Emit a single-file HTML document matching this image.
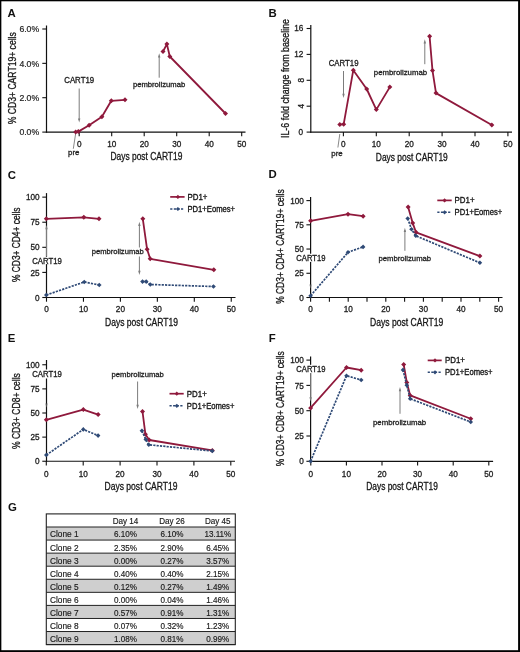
<!DOCTYPE html><html><head><meta charset="utf-8"><style>html,body{margin:0;padding:0;background:#fff;}body{width:520px;height:652px;overflow:hidden;}svg{display:block;font-family:"Liberation Sans", sans-serif;filter:blur(0.3px);}</style></head><body>
<svg width="520" height="652" viewBox="0 0 520 652">
<rect x="0" y="0" width="520" height="652" fill="#fff"/>
<text x="7.60" y="17.30" font-size="11.4" text-anchor="start" fill="#111" font-weight="bold">A</text>
<line x1="46.50" y1="25.50" x2="46.50" y2="132.70" stroke="#111" stroke-width="1.2"/>
<line x1="45.90" y1="132.10" x2="245.50" y2="132.10" stroke="#111" stroke-width="1.2"/>
<line x1="42.30" y1="132.10" x2="46.50" y2="132.10" stroke="#111" stroke-width="1.1"/>
<line x1="42.30" y1="97.70" x2="46.50" y2="97.70" stroke="#111" stroke-width="1.1"/>
<line x1="42.30" y1="63.35" x2="46.50" y2="63.35" stroke="#111" stroke-width="1.1"/>
<line x1="42.30" y1="29.00" x2="46.50" y2="29.00" stroke="#111" stroke-width="1.1"/>
<line x1="79.20" y1="132.10" x2="79.20" y2="136.30" stroke="#111" stroke-width="1.1"/>
<line x1="111.70" y1="132.10" x2="111.70" y2="136.30" stroke="#111" stroke-width="1.1"/>
<line x1="144.20" y1="132.10" x2="144.20" y2="136.30" stroke="#111" stroke-width="1.1"/>
<line x1="176.70" y1="132.10" x2="176.70" y2="136.30" stroke="#111" stroke-width="1.1"/>
<line x1="209.20" y1="132.10" x2="209.20" y2="136.30" stroke="#111" stroke-width="1.1"/>
<line x1="241.70" y1="132.10" x2="241.70" y2="136.30" stroke="#111" stroke-width="1.1"/>
<text x="39.20" y="135.30" font-size="8.7" text-anchor="end" fill="#1e1e1e" stroke="#1e1e1e" stroke-width="0.2">0.0%</text>
<text x="39.20" y="100.90" font-size="8.7" text-anchor="end" fill="#1e1e1e" stroke="#1e1e1e" stroke-width="0.2">2.0%</text>
<text x="39.20" y="66.55" font-size="8.7" text-anchor="end" fill="#1e1e1e" stroke="#1e1e1e" stroke-width="0.2">4.0%</text>
<text x="39.20" y="32.20" font-size="8.7" text-anchor="end" fill="#1e1e1e" stroke="#1e1e1e" stroke-width="0.2">6.0%</text>
<text x="79.20" y="146.80" font-size="8.2" text-anchor="middle" fill="#1e1e1e" stroke="#1e1e1e" stroke-width="0.3">0</text>
<text x="111.70" y="146.80" font-size="8.2" text-anchor="middle" fill="#1e1e1e" stroke="#1e1e1e" stroke-width="0.3">10</text>
<text x="144.20" y="146.80" font-size="8.2" text-anchor="middle" fill="#1e1e1e" stroke="#1e1e1e" stroke-width="0.3">20</text>
<text x="176.70" y="146.80" font-size="8.2" text-anchor="middle" fill="#1e1e1e" stroke="#1e1e1e" stroke-width="0.3">30</text>
<text x="209.20" y="146.80" font-size="8.2" text-anchor="middle" fill="#1e1e1e" stroke="#1e1e1e" stroke-width="0.3">40</text>
<text x="241.70" y="146.80" font-size="8.2" text-anchor="middle" fill="#1e1e1e" stroke="#1e1e1e" stroke-width="0.3">50</text>
<text x="110.40" y="160.40" font-size="10.6" text-anchor="start" fill="#161616" stroke="#161616" stroke-width="0.3" textLength="72.00" lengthAdjust="spacingAndGlyphs">Days post CART19</text>
<text x="16.30" y="124.20" font-size="10.0" text-anchor="start" fill="#161616" stroke="#161616" stroke-width="0.3" textLength="92.00" lengthAdjust="spacingAndGlyphs" transform="rotate(-90 16.30 124.20)">% CD3+ CART19+ cells</text>
<text x="0" y="0" font-size="7.8" text-anchor="start" fill="#1e1e1e" transform="translate(64.20 83.00) scale(1 1.08)" stroke="#1e1e1e" stroke-width="0.3" textLength="30.00" lengthAdjust="spacingAndGlyphs">CART19</text>
<line x1="79.20" y1="88.50" x2="79.20" y2="120.08" stroke="#7c7c7c" stroke-width="1.0"/>
<path d="M79.20 122.60L78.00 118.40L80.40 118.40Z" fill="#7c7c7c"/>
<text x="132.90" y="87.40" font-size="7.4" text-anchor="start" fill="#1e1e1e" stroke="#1e1e1e" stroke-width="0.3" textLength="52.30" lengthAdjust="spacingAndGlyphs">pembrolizumab</text>
<line x1="159.20" y1="77.70" x2="159.20" y2="55.82" stroke="#7c7c7c" stroke-width="1.0"/>
<path d="M159.20 53.30L158.00 57.50L160.40 57.50Z" fill="#7c7c7c"/>
<text x="68.10" y="155.30" font-size="7.8" text-anchor="start" fill="#1e1e1e" stroke="#1e1e1e" stroke-width="0.3" textLength="11.40" lengthAdjust="spacingAndGlyphs">pre</text>
<line x1="73.30" y1="148.80" x2="75.70" y2="133.30" stroke="#7c7c7c" stroke-width="0.9"/>
<polyline points="75.70,132.00 78.30,131.60 89.10,125.30 101.90,116.70 111.30,100.80 125.00,99.80" fill="none" stroke="#8f193c" stroke-width="1.8" stroke-linejoin="round"/>
<polyline points="163.00,51.50 166.90,44.10 169.80,56.50 225.50,113.50" fill="none" stroke="#8f193c" stroke-width="1.8" stroke-linejoin="round"/>
<path d="M75.70 129.50L78.20 132.00L75.70 134.50L73.20 132.00Z" fill="#8f193c"/>
<path d="M78.30 129.10L80.80 131.60L78.30 134.10L75.80 131.60Z" fill="#8f193c"/>
<path d="M89.10 122.80L91.60 125.30L89.10 127.80L86.60 125.30Z" fill="#8f193c"/>
<path d="M101.90 114.20L104.40 116.70L101.90 119.20L99.40 116.70Z" fill="#8f193c"/>
<path d="M111.30 98.30L113.80 100.80L111.30 103.30L108.80 100.80Z" fill="#8f193c"/>
<path d="M125.00 97.30L127.50 99.80L125.00 102.30L122.50 99.80Z" fill="#8f193c"/>
<path d="M163.00 49.00L165.50 51.50L163.00 54.00L160.50 51.50Z" fill="#8f193c"/>
<path d="M166.90 41.60L169.40 44.10L166.90 46.60L164.40 44.10Z" fill="#8f193c"/>
<path d="M169.80 54.00L172.30 56.50L169.80 59.00L167.30 56.50Z" fill="#8f193c"/>
<path d="M225.50 111.00L228.00 113.50L225.50 116.00L223.00 113.50Z" fill="#8f193c"/>
<text x="268.60" y="17.20" font-size="11.4" text-anchor="start" fill="#111" font-weight="bold">B</text>
<line x1="310.80" y1="25.00" x2="310.80" y2="132.70" stroke="#111" stroke-width="1.2"/>
<line x1="310.20" y1="132.10" x2="512.00" y2="132.10" stroke="#111" stroke-width="1.2"/>
<line x1="306.60" y1="132.10" x2="310.80" y2="132.10" stroke="#111" stroke-width="1.1"/>
<line x1="306.60" y1="106.20" x2="310.80" y2="106.20" stroke="#111" stroke-width="1.1"/>
<line x1="306.60" y1="80.30" x2="310.80" y2="80.30" stroke="#111" stroke-width="1.1"/>
<line x1="306.60" y1="54.40" x2="310.80" y2="54.40" stroke="#111" stroke-width="1.1"/>
<line x1="306.60" y1="28.50" x2="310.80" y2="28.50" stroke="#111" stroke-width="1.1"/>
<line x1="343.40" y1="132.10" x2="343.40" y2="136.30" stroke="#111" stroke-width="1.1"/>
<line x1="376.30" y1="132.10" x2="376.30" y2="136.30" stroke="#111" stroke-width="1.1"/>
<line x1="409.20" y1="132.10" x2="409.20" y2="136.30" stroke="#111" stroke-width="1.1"/>
<line x1="442.10" y1="132.10" x2="442.10" y2="136.30" stroke="#111" stroke-width="1.1"/>
<line x1="475.00" y1="132.10" x2="475.00" y2="136.30" stroke="#111" stroke-width="1.1"/>
<line x1="507.90" y1="132.10" x2="507.90" y2="136.30" stroke="#111" stroke-width="1.1"/>
<text x="303.00" y="134.90" font-size="8.2" text-anchor="end" fill="#1e1e1e" stroke="#1e1e1e" stroke-width="0.3">0</text>
<text x="303.30" y="57.20" font-size="8.2" text-anchor="end" fill="#1e1e1e" stroke="#1e1e1e" stroke-width="0.3">12</text>
<text x="303.30" y="31.30" font-size="8.2" text-anchor="end" fill="#1e1e1e" stroke="#1e1e1e" stroke-width="0.3">16</text>
<text x="304.00" y="80.30" font-size="8.2" text-anchor="middle" fill="#1e1e1e" stroke="#1e1e1e" stroke-width="0.3" transform="rotate(-90 304.00 80.30)">8</text>
<text x="304.00" y="106.20" font-size="8.2" text-anchor="middle" fill="#1e1e1e" stroke="#1e1e1e" stroke-width="0.3" transform="rotate(-90 304.00 106.20)">4</text>
<text x="343.40" y="146.80" font-size="8.2" text-anchor="middle" fill="#1e1e1e" stroke="#1e1e1e" stroke-width="0.3">0</text>
<text x="376.30" y="146.80" font-size="8.2" text-anchor="middle" fill="#1e1e1e" stroke="#1e1e1e" stroke-width="0.3">10</text>
<text x="409.20" y="146.80" font-size="8.2" text-anchor="middle" fill="#1e1e1e" stroke="#1e1e1e" stroke-width="0.3">20</text>
<text x="442.10" y="146.80" font-size="8.2" text-anchor="middle" fill="#1e1e1e" stroke="#1e1e1e" stroke-width="0.3">30</text>
<text x="475.00" y="146.80" font-size="8.2" text-anchor="middle" fill="#1e1e1e" stroke="#1e1e1e" stroke-width="0.3">40</text>
<text x="507.90" y="146.80" font-size="8.2" text-anchor="middle" fill="#1e1e1e" stroke="#1e1e1e" stroke-width="0.3">50</text>
<text x="375.80" y="160.60" font-size="10.6" text-anchor="start" fill="#161616" stroke="#161616" stroke-width="0.3" textLength="72.00" lengthAdjust="spacingAndGlyphs">Days post CART19</text>
<text x="289.20" y="138.00" font-size="10.0" text-anchor="start" fill="#161616" stroke="#161616" stroke-width="0.3" textLength="119.00" lengthAdjust="spacingAndGlyphs" transform="rotate(-90 289.20 138.00)">IL-6 fold change from baseline</text>
<text x="0" y="0" font-size="7.8" text-anchor="start" fill="#1e1e1e" transform="translate(328.70 66.30) scale(1 1.08)" stroke="#1e1e1e" stroke-width="0.3" textLength="29.80" lengthAdjust="spacingAndGlyphs">CART19</text>
<line x1="343.50" y1="71.00" x2="343.50" y2="95.48" stroke="#7c7c7c" stroke-width="1.0"/>
<path d="M343.50 98.00L342.30 93.80L344.70 93.80Z" fill="#7c7c7c"/>
<text x="373.80" y="74.50" font-size="7.4" text-anchor="start" fill="#1e1e1e" stroke="#1e1e1e" stroke-width="0.3" textLength="53.30" lengthAdjust="spacingAndGlyphs">pembrolizumab</text>
<line x1="424.80" y1="64.20" x2="424.80" y2="41.72" stroke="#7c7c7c" stroke-width="1.0"/>
<path d="M424.80 39.20L423.60 43.40L426.00 43.40Z" fill="#7c7c7c"/>
<text x="331.30" y="156.00" font-size="7.8" text-anchor="start" fill="#1e1e1e" stroke="#1e1e1e" stroke-width="0.3" textLength="11.40" lengthAdjust="spacingAndGlyphs">pre</text>
<line x1="337.90" y1="147.50" x2="339.80" y2="134.00" stroke="#7c7c7c" stroke-width="0.9"/>
<polyline points="339.80,124.60 343.70,124.20 353.30,70.20 366.70,89.00 376.30,109.60 389.80,87.10" fill="none" stroke="#8f193c" stroke-width="1.8" stroke-linejoin="round"/>
<polyline points="429.60,36.30 432.50,70.60 436.00,93.10 491.80,125.00" fill="none" stroke="#8f193c" stroke-width="1.8" stroke-linejoin="round"/>
<path d="M339.80 122.10L342.30 124.60L339.80 127.10L337.30 124.60Z" fill="#8f193c"/>
<path d="M343.70 121.70L346.20 124.20L343.70 126.70L341.20 124.20Z" fill="#8f193c"/>
<path d="M353.30 67.70L355.80 70.20L353.30 72.70L350.80 70.20Z" fill="#8f193c"/>
<path d="M366.70 86.50L369.20 89.00L366.70 91.50L364.20 89.00Z" fill="#8f193c"/>
<path d="M376.30 107.10L378.80 109.60L376.30 112.10L373.80 109.60Z" fill="#8f193c"/>
<path d="M389.80 84.60L392.30 87.10L389.80 89.60L387.30 87.10Z" fill="#8f193c"/>
<path d="M429.60 33.80L432.10 36.30L429.60 38.80L427.10 36.30Z" fill="#8f193c"/>
<path d="M432.50 68.10L435.00 70.60L432.50 73.10L430.00 70.60Z" fill="#8f193c"/>
<path d="M436.00 90.60L438.50 93.10L436.00 95.60L433.50 93.10Z" fill="#8f193c"/>
<path d="M491.80 122.50L494.30 125.00L491.80 127.50L489.30 125.00Z" fill="#8f193c"/>
<text x="7.80" y="178.60" font-size="11.4" text-anchor="start" fill="#111" font-weight="bold">C</text>
<line x1="46.50" y1="193.10" x2="46.50" y2="298.10" stroke="#111" stroke-width="1.2"/>
<line x1="45.90" y1="297.50" x2="235.50" y2="297.50" stroke="#111" stroke-width="1.2"/>
<line x1="42.30" y1="297.50" x2="46.50" y2="297.50" stroke="#111" stroke-width="1.1"/>
<line x1="42.30" y1="272.41" x2="46.50" y2="272.41" stroke="#111" stroke-width="1.1"/>
<line x1="42.30" y1="247.32" x2="46.50" y2="247.32" stroke="#111" stroke-width="1.1"/>
<line x1="42.30" y1="222.23" x2="46.50" y2="222.23" stroke="#111" stroke-width="1.1"/>
<line x1="42.30" y1="197.14" x2="46.50" y2="197.14" stroke="#111" stroke-width="1.1"/>
<line x1="46.50" y1="297.50" x2="46.50" y2="301.70" stroke="#111" stroke-width="1.1"/>
<line x1="83.45" y1="297.50" x2="83.45" y2="301.70" stroke="#111" stroke-width="1.1"/>
<line x1="120.40" y1="297.50" x2="120.40" y2="301.70" stroke="#111" stroke-width="1.1"/>
<line x1="157.35" y1="297.50" x2="157.35" y2="301.70" stroke="#111" stroke-width="1.1"/>
<line x1="194.30" y1="297.50" x2="194.30" y2="301.70" stroke="#111" stroke-width="1.1"/>
<line x1="231.25" y1="297.50" x2="231.25" y2="301.70" stroke="#111" stroke-width="1.1"/>
<text x="39.60" y="300.60" font-size="8.2" text-anchor="end" fill="#1e1e1e" stroke="#1e1e1e" stroke-width="0.3">0</text>
<text x="39.60" y="275.51" font-size="8.2" text-anchor="end" fill="#1e1e1e" stroke="#1e1e1e" stroke-width="0.3">25</text>
<text x="39.60" y="250.42" font-size="8.2" text-anchor="end" fill="#1e1e1e" stroke="#1e1e1e" stroke-width="0.3">50</text>
<text x="39.60" y="225.33" font-size="8.2" text-anchor="end" fill="#1e1e1e" stroke="#1e1e1e" stroke-width="0.3">75</text>
<text x="39.60" y="200.24" font-size="8.2" text-anchor="end" fill="#1e1e1e" stroke="#1e1e1e" stroke-width="0.3">100</text>
<text x="46.50" y="312.20" font-size="8.2" text-anchor="middle" fill="#1e1e1e" stroke="#1e1e1e" stroke-width="0.3">0</text>
<text x="83.45" y="312.20" font-size="8.2" text-anchor="middle" fill="#1e1e1e" stroke="#1e1e1e" stroke-width="0.3">10</text>
<text x="120.40" y="312.20" font-size="8.2" text-anchor="middle" fill="#1e1e1e" stroke="#1e1e1e" stroke-width="0.3">20</text>
<text x="157.35" y="312.20" font-size="8.2" text-anchor="middle" fill="#1e1e1e" stroke="#1e1e1e" stroke-width="0.3">30</text>
<text x="194.30" y="312.20" font-size="8.2" text-anchor="middle" fill="#1e1e1e" stroke="#1e1e1e" stroke-width="0.3">40</text>
<text x="231.25" y="312.20" font-size="8.2" text-anchor="middle" fill="#1e1e1e" stroke="#1e1e1e" stroke-width="0.3">50</text>
<text x="105.00" y="325.80" font-size="10.6" text-anchor="start" fill="#161616" stroke="#161616" stroke-width="0.3" textLength="73.00" lengthAdjust="spacingAndGlyphs">Days post CART19</text>
<text x="20.00" y="282.00" font-size="10.0" text-anchor="start" fill="#161616" stroke="#161616" stroke-width="0.3" textLength="74.50" lengthAdjust="spacingAndGlyphs" transform="rotate(-90 20.00 282.00)">% CD3+ CD4+ cells</text>
<rect x="44" y="256.7" width="5" height="7.4" fill="#fff"/>
<text x="0" y="0" font-size="7.8" text-anchor="start" fill="#1e1e1e" transform="translate(32.25 263.80) scale(1 1.08)" stroke="#1e1e1e" stroke-width="0.3" textLength="29.70" lengthAdjust="spacingAndGlyphs">CART19</text>
<line x1="46.50" y1="256.00" x2="46.50" y2="227.52" stroke="#7c7c7c" stroke-width="1.0"/>
<path d="M46.50 225.00L45.30 229.20L47.70 229.20Z" fill="#7c7c7c"/>
<text x="91.70" y="254.30" font-size="7.4" text-anchor="start" fill="#1e1e1e" stroke="#1e1e1e" stroke-width="0.3" textLength="52.00" lengthAdjust="spacingAndGlyphs">pembrolizumab</text>
<line x1="139.40" y1="247.50" x2="139.40" y2="224.22" stroke="#7c7c7c" stroke-width="1.0"/>
<path d="M139.40 221.70L138.20 225.90L140.60 225.90Z" fill="#7c7c7c"/>
<line x1="139.40" y1="256.50" x2="139.40" y2="272.48" stroke="#7c7c7c" stroke-width="1.0"/>
<path d="M139.40 275.00L138.20 270.80L140.60 270.80Z" fill="#7c7c7c"/>
<polyline points="46.30,218.80 83.80,217.30 99.00,218.80" fill="none" stroke="#8f193c" stroke-width="1.8" stroke-linejoin="round"/>
<polyline points="142.80,218.80 147.10,249.30 150.20,258.80 213.80,269.80" fill="none" stroke="#8f193c" stroke-width="1.8" stroke-linejoin="round"/>
<path d="M46.30 216.30L48.80 218.80L46.30 221.30L43.80 218.80Z" fill="#8f193c"/>
<path d="M83.80 214.80L86.30 217.30L83.80 219.80L81.30 217.30Z" fill="#8f193c"/>
<path d="M99.00 216.30L101.50 218.80L99.00 221.30L96.50 218.80Z" fill="#8f193c"/>
<path d="M142.80 216.30L145.30 218.80L142.80 221.30L140.30 218.80Z" fill="#8f193c"/>
<path d="M147.10 246.80L149.60 249.30L147.10 251.80L144.60 249.30Z" fill="#8f193c"/>
<path d="M150.20 256.30L152.70 258.80L150.20 261.30L147.70 258.80Z" fill="#8f193c"/>
<path d="M213.80 267.30L216.30 269.80L213.80 272.30L211.30 269.80Z" fill="#8f193c"/>
<polyline points="46.30,295.00 84.25,282.00 99.25,285.00" fill="none" stroke="#2f4a76" stroke-width="1.7" stroke-linejoin="round" stroke-dasharray="2.2 1.15"/>
<polyline points="142.50,281.60 146.20,281.60 150.30,284.50 213.50,286.50" fill="none" stroke="#2f4a76" stroke-width="1.7" stroke-linejoin="round" stroke-dasharray="2.2 1.15"/>
<path d="M46.30 292.70L48.60 295.00L46.30 297.30L44.00 295.00Z" fill="#2f4a76"/>
<path d="M84.25 279.70L86.55 282.00L84.25 284.30L81.95 282.00Z" fill="#2f4a76"/>
<path d="M99.25 282.70L101.55 285.00L99.25 287.30L96.95 285.00Z" fill="#2f4a76"/>
<path d="M142.50 279.30L144.80 281.60L142.50 283.90L140.20 281.60Z" fill="#2f4a76"/>
<path d="M146.20 279.30L148.50 281.60L146.20 283.90L143.90 281.60Z" fill="#2f4a76"/>
<path d="M150.30 282.20L152.60 284.50L150.30 286.80L148.00 284.50Z" fill="#2f4a76"/>
<path d="M213.50 284.20L215.80 286.50L213.50 288.80L211.20 286.50Z" fill="#2f4a76"/>
<line x1="170.20" y1="196.90" x2="184.60" y2="196.90" stroke="#8f193c" stroke-width="1.7"/>
<path d="M177.90 194.80L180.00 196.90L177.90 199.00L175.80 196.90Z" fill="#8f193c"/>
<line x1="170.20" y1="209.00" x2="184.60" y2="209.00" stroke="#2f4a76" stroke-width="1.5" stroke-dasharray="2.2 1.4"/>
<path d="M177.90 206.90L180.00 209.00L177.90 211.10L175.80 209.00Z" fill="#2f4a76"/>
<text x="0" y="0" font-size="7.8" text-anchor="start" fill="#161616" transform="translate(187.50 199.70) scale(1 1.15)" stroke="#161616" stroke-width="0.3" textLength="20.00" lengthAdjust="spacingAndGlyphs">PD1+</text>
<text x="0" y="0" font-size="7.8" text-anchor="start" fill="#161616" transform="translate(187.50 211.80) scale(1 1.15)" stroke="#161616" stroke-width="0.3" textLength="47.60" lengthAdjust="spacingAndGlyphs">PD1+Eomes+</text>
<text x="268.60" y="178.20" font-size="11.4" text-anchor="start" fill="#111" font-weight="bold">D</text>
<line x1="310.60" y1="196.90" x2="310.60" y2="298.10" stroke="#111" stroke-width="1.2"/>
<line x1="310.00" y1="297.50" x2="502.50" y2="297.50" stroke="#111" stroke-width="1.2"/>
<line x1="306.40" y1="297.50" x2="310.60" y2="297.50" stroke="#111" stroke-width="1.1"/>
<line x1="306.40" y1="273.27" x2="310.60" y2="273.27" stroke="#111" stroke-width="1.1"/>
<line x1="306.40" y1="249.05" x2="310.60" y2="249.05" stroke="#111" stroke-width="1.1"/>
<line x1="306.40" y1="224.82" x2="310.60" y2="224.82" stroke="#111" stroke-width="1.1"/>
<line x1="306.40" y1="200.60" x2="310.60" y2="200.60" stroke="#111" stroke-width="1.1"/>
<line x1="310.60" y1="297.50" x2="310.60" y2="301.70" stroke="#111" stroke-width="1.1"/>
<line x1="329.40" y1="297.50" x2="329.40" y2="301.70" stroke="#111" stroke-width="1.1"/>
<line x1="348.20" y1="297.50" x2="348.20" y2="301.70" stroke="#111" stroke-width="1.1"/>
<line x1="367.00" y1="297.50" x2="367.00" y2="301.70" stroke="#111" stroke-width="1.1"/>
<line x1="385.80" y1="297.50" x2="385.80" y2="301.70" stroke="#111" stroke-width="1.1"/>
<line x1="404.60" y1="297.50" x2="404.60" y2="301.70" stroke="#111" stroke-width="1.1"/>
<line x1="423.40" y1="297.50" x2="423.40" y2="301.70" stroke="#111" stroke-width="1.1"/>
<line x1="442.20" y1="297.50" x2="442.20" y2="301.70" stroke="#111" stroke-width="1.1"/>
<line x1="461.00" y1="297.50" x2="461.00" y2="301.70" stroke="#111" stroke-width="1.1"/>
<line x1="479.80" y1="297.50" x2="479.80" y2="301.70" stroke="#111" stroke-width="1.1"/>
<line x1="498.60" y1="297.50" x2="498.60" y2="301.70" stroke="#111" stroke-width="1.1"/>
<text x="303.80" y="300.60" font-size="8.2" text-anchor="end" fill="#1e1e1e" stroke="#1e1e1e" stroke-width="0.3">0</text>
<text x="303.80" y="276.38" font-size="8.2" text-anchor="end" fill="#1e1e1e" stroke="#1e1e1e" stroke-width="0.3">25</text>
<text x="303.80" y="252.15" font-size="8.2" text-anchor="end" fill="#1e1e1e" stroke="#1e1e1e" stroke-width="0.3">50</text>
<text x="303.80" y="227.92" font-size="8.2" text-anchor="end" fill="#1e1e1e" stroke="#1e1e1e" stroke-width="0.3">75</text>
<text x="303.80" y="203.70" font-size="8.2" text-anchor="end" fill="#1e1e1e" stroke="#1e1e1e" stroke-width="0.3">100</text>
<text x="310.60" y="312.20" font-size="8.2" text-anchor="middle" fill="#1e1e1e" stroke="#1e1e1e" stroke-width="0.3">0</text>
<text x="348.20" y="312.20" font-size="8.2" text-anchor="middle" fill="#1e1e1e" stroke="#1e1e1e" stroke-width="0.3">10</text>
<text x="385.80" y="312.20" font-size="8.2" text-anchor="middle" fill="#1e1e1e" stroke="#1e1e1e" stroke-width="0.3">20</text>
<text x="423.40" y="312.20" font-size="8.2" text-anchor="middle" fill="#1e1e1e" stroke="#1e1e1e" stroke-width="0.3">30</text>
<text x="461.00" y="312.20" font-size="8.2" text-anchor="middle" fill="#1e1e1e" stroke="#1e1e1e" stroke-width="0.3">40</text>
<text x="498.60" y="312.20" font-size="8.2" text-anchor="middle" fill="#1e1e1e" stroke="#1e1e1e" stroke-width="0.3">50</text>
<text x="370.00" y="325.80" font-size="10.6" text-anchor="start" fill="#161616" stroke="#161616" stroke-width="0.3" textLength="73.30" lengthAdjust="spacingAndGlyphs">Days post CART19</text>
<text x="283.80" y="303.80" font-size="10.0" text-anchor="start" fill="#161616" stroke="#161616" stroke-width="0.3" textLength="114.40" lengthAdjust="spacingAndGlyphs" transform="rotate(-90 283.80 303.80)">% CD3+ CD4+ CART19+ cells</text>
<rect x="308" y="253.7" width="5" height="8.2" fill="#fff"/>
<text x="0" y="0" font-size="7.8" text-anchor="start" fill="#1e1e1e" transform="translate(296.25 261.00) scale(1 1.08)" stroke="#1e1e1e" stroke-width="0.3" textLength="29.20" lengthAdjust="spacingAndGlyphs">CART19</text>
<path d="M310.60 288.50L309.10 284.50L312.10 284.50Z" fill="#7c7c7c" opacity="0.6"/>
<text x="378.50" y="261.30" font-size="7.4" text-anchor="start" fill="#1e1e1e" stroke="#1e1e1e" stroke-width="0.3" textLength="52.60" lengthAdjust="spacingAndGlyphs">pembrolizumab</text>
<line x1="404.90" y1="250.80" x2="404.90" y2="230.22" stroke="#7c7c7c" stroke-width="1.0"/>
<path d="M404.90 227.70L403.70 231.90L406.10 231.90Z" fill="#7c7c7c"/>
<polyline points="310.60,220.80 348.00,214.20 363.10,216.20" fill="none" stroke="#8f193c" stroke-width="1.8" stroke-linejoin="round"/>
<polyline points="408.10,206.90 412.70,223.10 416.00,232.30 479.90,256.10" fill="none" stroke="#8f193c" stroke-width="1.8" stroke-linejoin="round"/>
<path d="M310.60 218.30L313.10 220.80L310.60 223.30L308.10 220.80Z" fill="#8f193c"/>
<path d="M348.00 211.70L350.50 214.20L348.00 216.70L345.50 214.20Z" fill="#8f193c"/>
<path d="M363.10 213.70L365.60 216.20L363.10 218.70L360.60 216.20Z" fill="#8f193c"/>
<path d="M408.10 204.40L410.60 206.90L408.10 209.40L405.60 206.90Z" fill="#8f193c"/>
<path d="M412.70 220.60L415.20 223.10L412.70 225.60L410.20 223.10Z" fill="#8f193c"/>
<path d="M416.00 229.80L418.50 232.30L416.00 234.80L413.50 232.30Z" fill="#8f193c"/>
<path d="M479.90 253.60L482.40 256.10L479.90 258.60L477.40 256.10Z" fill="#8f193c"/>
<polyline points="310.60,295.70 348.00,252.30 363.10,246.90" fill="none" stroke="#2f4a76" stroke-width="1.7" stroke-linejoin="round" stroke-dasharray="2.2 1.15"/>
<polyline points="407.70,218.50 411.50,229.20 415.80,235.80 479.90,262.80" fill="none" stroke="#2f4a76" stroke-width="1.7" stroke-linejoin="round" stroke-dasharray="2.2 1.15"/>
<path d="M310.60 293.40L312.90 295.70L310.60 298.00L308.30 295.70Z" fill="#2f4a76"/>
<path d="M348.00 250.00L350.30 252.30L348.00 254.60L345.70 252.30Z" fill="#2f4a76"/>
<path d="M363.10 244.60L365.40 246.90L363.10 249.20L360.80 246.90Z" fill="#2f4a76"/>
<path d="M407.70 216.20L410.00 218.50L407.70 220.80L405.40 218.50Z" fill="#2f4a76"/>
<path d="M411.50 226.90L413.80 229.20L411.50 231.50L409.20 229.20Z" fill="#2f4a76"/>
<path d="M415.80 233.50L418.10 235.80L415.80 238.10L413.50 235.80Z" fill="#2f4a76"/>
<path d="M479.90 260.50L482.20 262.80L479.90 265.10L477.60 262.80Z" fill="#2f4a76"/>
<line x1="437.30" y1="200.40" x2="451.70" y2="200.40" stroke="#8f193c" stroke-width="1.7"/>
<path d="M444.60 198.30L446.70 200.40L444.60 202.50L442.50 200.40Z" fill="#8f193c"/>
<line x1="437.30" y1="212.30" x2="451.70" y2="212.30" stroke="#2f4a76" stroke-width="1.5" stroke-dasharray="2.2 1.4"/>
<path d="M444.60 210.20L446.70 212.30L444.60 214.40L442.50 212.30Z" fill="#2f4a76"/>
<text x="0" y="0" font-size="7.8" text-anchor="start" fill="#161616" transform="translate(454.60 203.20) scale(1 1.15)" stroke="#161616" stroke-width="0.3" textLength="20.00" lengthAdjust="spacingAndGlyphs">PD1+</text>
<text x="0" y="0" font-size="7.8" text-anchor="start" fill="#161616" transform="translate(454.60 215.10) scale(1 1.15)" stroke="#161616" stroke-width="0.3" textLength="47.60" lengthAdjust="spacingAndGlyphs">PD1+Eomes+</text>
<text x="7.80" y="342.30" font-size="11.4" text-anchor="start" fill="#111" font-weight="bold">E</text>
<line x1="46.50" y1="360.00" x2="46.50" y2="461.85" stroke="#111" stroke-width="1.2"/>
<line x1="45.90" y1="461.25" x2="235.00" y2="461.25" stroke="#111" stroke-width="1.2"/>
<line x1="42.30" y1="461.25" x2="46.50" y2="461.25" stroke="#111" stroke-width="1.1"/>
<line x1="42.30" y1="437.12" x2="46.50" y2="437.12" stroke="#111" stroke-width="1.1"/>
<line x1="42.30" y1="413.00" x2="46.50" y2="413.00" stroke="#111" stroke-width="1.1"/>
<line x1="42.30" y1="388.88" x2="46.50" y2="388.88" stroke="#111" stroke-width="1.1"/>
<line x1="42.30" y1="364.75" x2="46.50" y2="364.75" stroke="#111" stroke-width="1.1"/>
<line x1="46.30" y1="461.25" x2="46.30" y2="465.45" stroke="#111" stroke-width="1.1"/>
<line x1="83.20" y1="461.25" x2="83.20" y2="465.45" stroke="#111" stroke-width="1.1"/>
<line x1="120.10" y1="461.25" x2="120.10" y2="465.45" stroke="#111" stroke-width="1.1"/>
<line x1="157.00" y1="461.25" x2="157.00" y2="465.45" stroke="#111" stroke-width="1.1"/>
<line x1="193.90" y1="461.25" x2="193.90" y2="465.45" stroke="#111" stroke-width="1.1"/>
<line x1="230.80" y1="461.25" x2="230.80" y2="465.45" stroke="#111" stroke-width="1.1"/>
<text x="39.60" y="464.35" font-size="8.2" text-anchor="end" fill="#1e1e1e" stroke="#1e1e1e" stroke-width="0.3">0</text>
<text x="39.60" y="440.23" font-size="8.2" text-anchor="end" fill="#1e1e1e" stroke="#1e1e1e" stroke-width="0.3">25</text>
<text x="39.60" y="416.10" font-size="8.2" text-anchor="end" fill="#1e1e1e" stroke="#1e1e1e" stroke-width="0.3">50</text>
<text x="39.60" y="391.98" font-size="8.2" text-anchor="end" fill="#1e1e1e" stroke="#1e1e1e" stroke-width="0.3">75</text>
<text x="39.60" y="367.85" font-size="8.2" text-anchor="end" fill="#1e1e1e" stroke="#1e1e1e" stroke-width="0.3">100</text>
<text x="46.30" y="476.70" font-size="8.2" text-anchor="middle" fill="#1e1e1e" stroke="#1e1e1e" stroke-width="0.3">0</text>
<text x="83.20" y="476.70" font-size="8.2" text-anchor="middle" fill="#1e1e1e" stroke="#1e1e1e" stroke-width="0.3">10</text>
<text x="120.10" y="476.70" font-size="8.2" text-anchor="middle" fill="#1e1e1e" stroke="#1e1e1e" stroke-width="0.3">20</text>
<text x="157.00" y="476.70" font-size="8.2" text-anchor="middle" fill="#1e1e1e" stroke="#1e1e1e" stroke-width="0.3">30</text>
<text x="193.90" y="476.70" font-size="8.2" text-anchor="middle" fill="#1e1e1e" stroke="#1e1e1e" stroke-width="0.3">40</text>
<text x="230.80" y="476.70" font-size="8.2" text-anchor="middle" fill="#1e1e1e" stroke="#1e1e1e" stroke-width="0.3">50</text>
<text x="104.50" y="489.60" font-size="10.6" text-anchor="start" fill="#161616" stroke="#161616" stroke-width="0.3" textLength="73.00" lengthAdjust="spacingAndGlyphs">Days post CART19</text>
<text x="20.00" y="449.00" font-size="10.0" text-anchor="start" fill="#161616" stroke="#161616" stroke-width="0.3" textLength="75.80" lengthAdjust="spacingAndGlyphs" transform="rotate(-90 20.00 449.00)">% CD3+ CD8+ cells</text>
<rect x="40" y="369.5" width="14" height="9" fill="#fff"/>
<text x="0" y="0" font-size="7.8" text-anchor="start" fill="#1e1e1e" transform="translate(32.25 377.20) scale(1 1.08)" stroke="#1e1e1e" stroke-width="0.3" textLength="29.70" lengthAdjust="spacingAndGlyphs">CART19</text>
<path d="M46.50 407.50L45.00 403.50L48.00 403.50Z" fill="#7c7c7c" opacity="0.6"/>
<text x="111.50" y="376.70" font-size="7.4" text-anchor="start" fill="#1e1e1e" stroke="#1e1e1e" stroke-width="0.3" textLength="52.30" lengthAdjust="spacingAndGlyphs">pembrolizumab</text>
<line x1="137.60" y1="381.50" x2="137.60" y2="406.38" stroke="#7c7c7c" stroke-width="1.0"/>
<path d="M137.60 408.90L136.40 404.70L138.80 404.70Z" fill="#7c7c7c"/>
<polyline points="46.30,419.80 83.30,409.60 98.10,414.60" fill="none" stroke="#8f193c" stroke-width="1.8" stroke-linejoin="round"/>
<polyline points="142.50,411.50 145.40,434.20 149.20,440.00 212.30,450.40" fill="none" stroke="#8f193c" stroke-width="1.8" stroke-linejoin="round"/>
<path d="M46.30 417.30L48.80 419.80L46.30 422.30L43.80 419.80Z" fill="#8f193c"/>
<path d="M83.30 407.10L85.80 409.60L83.30 412.10L80.80 409.60Z" fill="#8f193c"/>
<path d="M98.10 412.10L100.60 414.60L98.10 417.10L95.60 414.60Z" fill="#8f193c"/>
<path d="M142.50 409.00L145.00 411.50L142.50 414.00L140.00 411.50Z" fill="#8f193c"/>
<path d="M145.40 431.70L147.90 434.20L145.40 436.70L142.90 434.20Z" fill="#8f193c"/>
<path d="M149.20 437.50L151.70 440.00L149.20 442.50L146.70 440.00Z" fill="#8f193c"/>
<path d="M212.30 447.90L214.80 450.40L212.30 452.90L209.80 450.40Z" fill="#8f193c"/>
<polyline points="46.30,455.00 83.30,429.40 98.10,435.60" fill="none" stroke="#2f4a76" stroke-width="1.7" stroke-linejoin="round" stroke-dasharray="2.2 1.15"/>
<polyline points="141.90,430.80 145.80,439.40 148.80,444.80 212.30,451.00" fill="none" stroke="#2f4a76" stroke-width="1.7" stroke-linejoin="round" stroke-dasharray="2.2 1.15"/>
<path d="M46.30 452.70L48.60 455.00L46.30 457.30L44.00 455.00Z" fill="#2f4a76"/>
<path d="M83.30 427.10L85.60 429.40L83.30 431.70L81.00 429.40Z" fill="#2f4a76"/>
<path d="M98.10 433.30L100.40 435.60L98.10 437.90L95.80 435.60Z" fill="#2f4a76"/>
<path d="M141.90 428.50L144.20 430.80L141.90 433.10L139.60 430.80Z" fill="#2f4a76"/>
<path d="M145.80 437.10L148.10 439.40L145.80 441.70L143.50 439.40Z" fill="#2f4a76"/>
<path d="M148.80 442.50L151.10 444.80L148.80 447.10L146.50 444.80Z" fill="#2f4a76"/>
<path d="M212.30 448.70L214.60 451.00L212.30 453.30L210.00 451.00Z" fill="#2f4a76"/>
<line x1="169.50" y1="393.70" x2="183.70" y2="393.70" stroke="#8f193c" stroke-width="1.7"/>
<path d="M176.80 391.60L178.90 393.70L176.80 395.80L174.70 393.70Z" fill="#8f193c"/>
<line x1="169.50" y1="405.80" x2="183.70" y2="405.80" stroke="#2f4a76" stroke-width="1.5" stroke-dasharray="2.2 1.4"/>
<path d="M176.80 403.70L178.90 405.80L176.80 407.90L174.70 405.80Z" fill="#2f4a76"/>
<text x="0" y="0" font-size="7.8" text-anchor="start" fill="#161616" transform="translate(186.80 396.50) scale(1 1.15)" stroke="#161616" stroke-width="0.3" textLength="20.00" lengthAdjust="spacingAndGlyphs">PD1+</text>
<text x="0" y="0" font-size="7.8" text-anchor="start" fill="#161616" transform="translate(186.80 408.60) scale(1 1.15)" stroke="#161616" stroke-width="0.3" textLength="47.60" lengthAdjust="spacingAndGlyphs">PD1+Eomes+</text>
<text x="268.80" y="342.10" font-size="11.4" text-anchor="start" fill="#111" font-weight="bold">F</text>
<line x1="310.60" y1="356.50" x2="310.60" y2="461.90" stroke="#111" stroke-width="1.2"/>
<line x1="310.00" y1="461.30" x2="493.10" y2="461.30" stroke="#111" stroke-width="1.2"/>
<line x1="306.40" y1="461.30" x2="310.60" y2="461.30" stroke="#111" stroke-width="1.1"/>
<line x1="306.40" y1="436.00" x2="310.60" y2="436.00" stroke="#111" stroke-width="1.1"/>
<line x1="306.40" y1="410.70" x2="310.60" y2="410.70" stroke="#111" stroke-width="1.1"/>
<line x1="306.40" y1="385.40" x2="310.60" y2="385.40" stroke="#111" stroke-width="1.1"/>
<line x1="306.40" y1="360.10" x2="310.60" y2="360.10" stroke="#111" stroke-width="1.1"/>
<line x1="310.80" y1="461.30" x2="310.80" y2="465.50" stroke="#111" stroke-width="1.1"/>
<line x1="346.40" y1="461.30" x2="346.40" y2="465.50" stroke="#111" stroke-width="1.1"/>
<line x1="382.00" y1="461.30" x2="382.00" y2="465.50" stroke="#111" stroke-width="1.1"/>
<line x1="417.60" y1="461.30" x2="417.60" y2="465.50" stroke="#111" stroke-width="1.1"/>
<line x1="453.20" y1="461.30" x2="453.20" y2="465.50" stroke="#111" stroke-width="1.1"/>
<line x1="488.80" y1="461.30" x2="488.80" y2="465.50" stroke="#111" stroke-width="1.1"/>
<text x="303.80" y="464.40" font-size="8.2" text-anchor="end" fill="#1e1e1e" stroke="#1e1e1e" stroke-width="0.3">0</text>
<text x="303.80" y="439.10" font-size="8.2" text-anchor="end" fill="#1e1e1e" stroke="#1e1e1e" stroke-width="0.3">25</text>
<text x="303.80" y="413.80" font-size="8.2" text-anchor="end" fill="#1e1e1e" stroke="#1e1e1e" stroke-width="0.3">50</text>
<text x="303.80" y="388.50" font-size="8.2" text-anchor="end" fill="#1e1e1e" stroke="#1e1e1e" stroke-width="0.3">75</text>
<text x="303.80" y="363.20" font-size="8.2" text-anchor="end" fill="#1e1e1e" stroke="#1e1e1e" stroke-width="0.3">100</text>
<text x="310.80" y="476.70" font-size="8.2" text-anchor="middle" fill="#1e1e1e" stroke="#1e1e1e" stroke-width="0.3">0</text>
<text x="346.40" y="476.70" font-size="8.2" text-anchor="middle" fill="#1e1e1e" stroke="#1e1e1e" stroke-width="0.3">10</text>
<text x="382.00" y="476.70" font-size="8.2" text-anchor="middle" fill="#1e1e1e" stroke="#1e1e1e" stroke-width="0.3">20</text>
<text x="417.60" y="476.70" font-size="8.2" text-anchor="middle" fill="#1e1e1e" stroke="#1e1e1e" stroke-width="0.3">30</text>
<text x="453.20" y="476.70" font-size="8.2" text-anchor="middle" fill="#1e1e1e" stroke="#1e1e1e" stroke-width="0.3">40</text>
<text x="488.80" y="476.70" font-size="8.2" text-anchor="middle" fill="#1e1e1e" stroke="#1e1e1e" stroke-width="0.3">50</text>
<text x="366.25" y="489.60" font-size="10.6" text-anchor="start" fill="#161616" stroke="#161616" stroke-width="0.3" textLength="71.60" lengthAdjust="spacingAndGlyphs">Days post CART19</text>
<text x="284.00" y="466.30" font-size="10.0" text-anchor="start" fill="#161616" stroke="#161616" stroke-width="0.3" textLength="115.00" lengthAdjust="spacingAndGlyphs" transform="rotate(-90 284.00 466.30)">% CD3+ CD8+ CART19+ cells</text>
<rect x="304" y="364.8" width="14" height="8.4" fill="#fff"/>
<text x="0" y="0" font-size="7.8" text-anchor="start" fill="#1e1e1e" transform="translate(296.25 372.10) scale(1 1.08)" stroke="#1e1e1e" stroke-width="0.3" textLength="29.20" lengthAdjust="spacingAndGlyphs">CART19</text>
<line x1="310.60" y1="373.00" x2="310.60" y2="398.98" stroke="#7c7c7c" stroke-width="1.0"/>
<path d="M310.60 401.50L309.40 397.30L311.80 397.30Z" fill="#7c7c7c"/>
<text x="373.00" y="424.50" font-size="7.4" text-anchor="start" fill="#1e1e1e" stroke="#1e1e1e" stroke-width="0.3" textLength="53.20" lengthAdjust="spacingAndGlyphs">pembrolizumab</text>
<line x1="400.00" y1="413.75" x2="400.00" y2="389.52" stroke="#7c7c7c" stroke-width="1.0"/>
<path d="M400.00 387.00L398.80 391.20L401.20 391.20Z" fill="#7c7c7c"/>
<polyline points="310.60,407.90 346.50,367.50 361.20,370.20" fill="none" stroke="#8f193c" stroke-width="1.8" stroke-linejoin="round"/>
<polyline points="403.70,364.60 406.80,382.40 410.20,395.40 470.75,418.75" fill="none" stroke="#8f193c" stroke-width="1.8" stroke-linejoin="round"/>
<path d="M310.60 405.40L313.10 407.90L310.60 410.40L308.10 407.90Z" fill="#8f193c"/>
<path d="M346.50 365.00L349.00 367.50L346.50 370.00L344.00 367.50Z" fill="#8f193c"/>
<path d="M361.20 367.70L363.70 370.20L361.20 372.70L358.70 370.20Z" fill="#8f193c"/>
<path d="M403.70 362.10L406.20 364.60L403.70 367.10L401.20 364.60Z" fill="#8f193c"/>
<path d="M406.80 379.90L409.30 382.40L406.80 384.90L404.30 382.40Z" fill="#8f193c"/>
<path d="M410.20 392.90L412.70 395.40L410.20 397.90L407.70 395.40Z" fill="#8f193c"/>
<path d="M470.75 416.25L473.25 418.75L470.75 421.25L468.25 418.75Z" fill="#8f193c"/>
<polyline points="310.60,461.30 346.50,375.70 361.20,380.00" fill="none" stroke="#2f4a76" stroke-width="1.7" stroke-linejoin="round" stroke-dasharray="2.2 1.15"/>
<polyline points="403.00,369.90 406.80,385.30 410.20,398.75 470.75,422.00" fill="none" stroke="#2f4a76" stroke-width="1.7" stroke-linejoin="round" stroke-dasharray="2.2 1.15"/>
<path d="M310.60 459.00L312.90 461.30L310.60 463.60L308.30 461.30Z" fill="#2f4a76"/>
<path d="M346.50 373.40L348.80 375.70L346.50 378.00L344.20 375.70Z" fill="#2f4a76"/>
<path d="M361.20 377.70L363.50 380.00L361.20 382.30L358.90 380.00Z" fill="#2f4a76"/>
<path d="M403.00 367.60L405.30 369.90L403.00 372.20L400.70 369.90Z" fill="#2f4a76"/>
<path d="M406.80 383.00L409.10 385.30L406.80 387.60L404.50 385.30Z" fill="#2f4a76"/>
<path d="M410.20 396.45L412.50 398.75L410.20 401.05L407.90 398.75Z" fill="#2f4a76"/>
<path d="M470.75 419.70L473.05 422.00L470.75 424.30L468.45 422.00Z" fill="#2f4a76"/>
<line x1="427.70" y1="360.40" x2="441.70" y2="360.40" stroke="#8f193c" stroke-width="1.7"/>
<path d="M435.00 358.30L437.10 360.40L435.00 362.50L432.90 360.40Z" fill="#8f193c"/>
<line x1="427.70" y1="372.30" x2="441.70" y2="372.30" stroke="#2f4a76" stroke-width="1.5" stroke-dasharray="2.2 1.4"/>
<path d="M435.00 370.20L437.10 372.30L435.00 374.40L432.90 372.30Z" fill="#2f4a76"/>
<text x="0" y="0" font-size="7.8" text-anchor="start" fill="#161616" transform="translate(445.00 363.20) scale(1 1.15)" stroke="#161616" stroke-width="0.3" textLength="20.00" lengthAdjust="spacingAndGlyphs">PD1+</text>
<text x="0" y="0" font-size="7.8" text-anchor="start" fill="#161616" transform="translate(445.00 375.10) scale(1 1.15)" stroke="#161616" stroke-width="0.3" textLength="47.60" lengthAdjust="spacingAndGlyphs">PD1+Eomes+</text>
<text x="8.00" y="510.60" font-size="11.4" text-anchor="start" fill="#111" font-weight="bold">G</text>
<rect x="46.30" y="527.00" width="189.00" height="13.07" fill="#cfcfcf"/>
<rect x="46.30" y="553.13" width="189.00" height="13.07" fill="#cfcfcf"/>
<rect x="46.30" y="579.27" width="189.00" height="13.07" fill="#cfcfcf"/>
<rect x="46.30" y="605.40" width="189.00" height="13.07" fill="#cfcfcf"/>
<rect x="46.30" y="631.53" width="189.00" height="13.07" fill="#cfcfcf"/>
<line x1="46.30" y1="527.00" x2="235.30" y2="527.00" stroke="#222" stroke-width="1.0"/>
<line x1="46.30" y1="540.07" x2="235.30" y2="540.07" stroke="#222" stroke-width="1.0"/>
<line x1="46.30" y1="553.13" x2="235.30" y2="553.13" stroke="#222" stroke-width="1.0"/>
<line x1="46.30" y1="566.20" x2="235.30" y2="566.20" stroke="#222" stroke-width="1.0"/>
<line x1="46.30" y1="579.27" x2="235.30" y2="579.27" stroke="#222" stroke-width="1.0"/>
<line x1="46.30" y1="592.33" x2="235.30" y2="592.33" stroke="#222" stroke-width="1.0"/>
<line x1="46.30" y1="605.40" x2="235.30" y2="605.40" stroke="#222" stroke-width="1.0"/>
<line x1="46.30" y1="618.47" x2="235.30" y2="618.47" stroke="#222" stroke-width="1.0"/>
<line x1="46.30" y1="631.53" x2="235.30" y2="631.53" stroke="#222" stroke-width="1.0"/>
<line x1="46.30" y1="644.60" x2="235.30" y2="644.60" stroke="#222" stroke-width="1.0"/>
<rect x="46.30" y="513.90" width="189.00" height="130.70" fill="none" stroke="#222" stroke-width="1.1"/>
<text x="0" y="0" font-size="8.1" text-anchor="middle" fill="#1a1a1a" transform="translate(125.50 524.00) scale(1 1.08)" stroke="#1a1a1a" stroke-width="0.15">Day 14</text>
<text x="0" y="0" font-size="8.1" text-anchor="middle" fill="#1a1a1a" transform="translate(172.00 524.00) scale(1 1.08)" stroke="#1a1a1a" stroke-width="0.15">Day 26</text>
<text x="0" y="0" font-size="8.1" text-anchor="middle" fill="#1a1a1a" transform="translate(217.80 524.00) scale(1 1.08)" stroke="#1a1a1a" stroke-width="0.15">Day 45</text>
<text x="0" y="0" font-size="8.1" text-anchor="start" fill="#1a1a1a" transform="translate(50.00 537.43) scale(1 1.08)" stroke="#1a1a1a" stroke-width="0.15" textLength="28.60" lengthAdjust="spacingAndGlyphs">Clone 1</text>
<text x="0" y="0" font-size="8.1" text-anchor="middle" fill="#1a1a1a" transform="translate(125.50 537.43) scale(1 1.08)" stroke="#1a1a1a" stroke-width="0.15">6.10%</text>
<text x="0" y="0" font-size="8.1" text-anchor="middle" fill="#1a1a1a" transform="translate(172.00 537.43) scale(1 1.08)" stroke="#1a1a1a" stroke-width="0.15">6.10%</text>
<text x="0" y="0" font-size="8.1" text-anchor="middle" fill="#1a1a1a" transform="translate(217.80 537.43) scale(1 1.08)" stroke="#1a1a1a" stroke-width="0.15">13.11%</text>
<text x="0" y="0" font-size="8.1" text-anchor="start" fill="#1a1a1a" transform="translate(50.00 550.50) scale(1 1.08)" stroke="#1a1a1a" stroke-width="0.15" textLength="28.60" lengthAdjust="spacingAndGlyphs">Clone 2</text>
<text x="0" y="0" font-size="8.1" text-anchor="middle" fill="#1a1a1a" transform="translate(125.50 550.50) scale(1 1.08)" stroke="#1a1a1a" stroke-width="0.15">2.35%</text>
<text x="0" y="0" font-size="8.1" text-anchor="middle" fill="#1a1a1a" transform="translate(172.00 550.50) scale(1 1.08)" stroke="#1a1a1a" stroke-width="0.15">2.90%</text>
<text x="0" y="0" font-size="8.1" text-anchor="middle" fill="#1a1a1a" transform="translate(217.80 550.50) scale(1 1.08)" stroke="#1a1a1a" stroke-width="0.15">6.45%</text>
<text x="0" y="0" font-size="8.1" text-anchor="start" fill="#1a1a1a" transform="translate(50.00 563.57) scale(1 1.08)" stroke="#1a1a1a" stroke-width="0.15" textLength="28.60" lengthAdjust="spacingAndGlyphs">Clone 3</text>
<text x="0" y="0" font-size="8.1" text-anchor="middle" fill="#1a1a1a" transform="translate(125.50 563.57) scale(1 1.08)" stroke="#1a1a1a" stroke-width="0.15">0.00%</text>
<text x="0" y="0" font-size="8.1" text-anchor="middle" fill="#1a1a1a" transform="translate(172.00 563.57) scale(1 1.08)" stroke="#1a1a1a" stroke-width="0.15">0.27%</text>
<text x="0" y="0" font-size="8.1" text-anchor="middle" fill="#1a1a1a" transform="translate(217.80 563.57) scale(1 1.08)" stroke="#1a1a1a" stroke-width="0.15">3.57%</text>
<text x="0" y="0" font-size="8.1" text-anchor="start" fill="#1a1a1a" transform="translate(50.00 576.63) scale(1 1.08)" stroke="#1a1a1a" stroke-width="0.15" textLength="28.60" lengthAdjust="spacingAndGlyphs">Clone 4</text>
<text x="0" y="0" font-size="8.1" text-anchor="middle" fill="#1a1a1a" transform="translate(125.50 576.63) scale(1 1.08)" stroke="#1a1a1a" stroke-width="0.15">0.40%</text>
<text x="0" y="0" font-size="8.1" text-anchor="middle" fill="#1a1a1a" transform="translate(172.00 576.63) scale(1 1.08)" stroke="#1a1a1a" stroke-width="0.15">0.40%</text>
<text x="0" y="0" font-size="8.1" text-anchor="middle" fill="#1a1a1a" transform="translate(217.80 576.63) scale(1 1.08)" stroke="#1a1a1a" stroke-width="0.15">2.15%</text>
<text x="0" y="0" font-size="8.1" text-anchor="start" fill="#1a1a1a" transform="translate(50.00 589.70) scale(1 1.08)" stroke="#1a1a1a" stroke-width="0.15" textLength="28.60" lengthAdjust="spacingAndGlyphs">Clone 5</text>
<text x="0" y="0" font-size="8.1" text-anchor="middle" fill="#1a1a1a" transform="translate(125.50 589.70) scale(1 1.08)" stroke="#1a1a1a" stroke-width="0.15">0.12%</text>
<text x="0" y="0" font-size="8.1" text-anchor="middle" fill="#1a1a1a" transform="translate(172.00 589.70) scale(1 1.08)" stroke="#1a1a1a" stroke-width="0.15">0.27%</text>
<text x="0" y="0" font-size="8.1" text-anchor="middle" fill="#1a1a1a" transform="translate(217.80 589.70) scale(1 1.08)" stroke="#1a1a1a" stroke-width="0.15">1.49%</text>
<text x="0" y="0" font-size="8.1" text-anchor="start" fill="#1a1a1a" transform="translate(50.00 602.77) scale(1 1.08)" stroke="#1a1a1a" stroke-width="0.15" textLength="28.60" lengthAdjust="spacingAndGlyphs">Clone 6</text>
<text x="0" y="0" font-size="8.1" text-anchor="middle" fill="#1a1a1a" transform="translate(125.50 602.77) scale(1 1.08)" stroke="#1a1a1a" stroke-width="0.15">0.00%</text>
<text x="0" y="0" font-size="8.1" text-anchor="middle" fill="#1a1a1a" transform="translate(172.00 602.77) scale(1 1.08)" stroke="#1a1a1a" stroke-width="0.15">0.04%</text>
<text x="0" y="0" font-size="8.1" text-anchor="middle" fill="#1a1a1a" transform="translate(217.80 602.77) scale(1 1.08)" stroke="#1a1a1a" stroke-width="0.15">1.46%</text>
<text x="0" y="0" font-size="8.1" text-anchor="start" fill="#1a1a1a" transform="translate(50.00 615.83) scale(1 1.08)" stroke="#1a1a1a" stroke-width="0.15" textLength="28.60" lengthAdjust="spacingAndGlyphs">Clone 7</text>
<text x="0" y="0" font-size="8.1" text-anchor="middle" fill="#1a1a1a" transform="translate(125.50 615.83) scale(1 1.08)" stroke="#1a1a1a" stroke-width="0.15">0.57%</text>
<text x="0" y="0" font-size="8.1" text-anchor="middle" fill="#1a1a1a" transform="translate(172.00 615.83) scale(1 1.08)" stroke="#1a1a1a" stroke-width="0.15">0.91%</text>
<text x="0" y="0" font-size="8.1" text-anchor="middle" fill="#1a1a1a" transform="translate(217.80 615.83) scale(1 1.08)" stroke="#1a1a1a" stroke-width="0.15">1.31%</text>
<text x="0" y="0" font-size="8.1" text-anchor="start" fill="#1a1a1a" transform="translate(50.00 628.90) scale(1 1.08)" stroke="#1a1a1a" stroke-width="0.15" textLength="28.60" lengthAdjust="spacingAndGlyphs">Clone 8</text>
<text x="0" y="0" font-size="8.1" text-anchor="middle" fill="#1a1a1a" transform="translate(125.50 628.90) scale(1 1.08)" stroke="#1a1a1a" stroke-width="0.15">0.07%</text>
<text x="0" y="0" font-size="8.1" text-anchor="middle" fill="#1a1a1a" transform="translate(172.00 628.90) scale(1 1.08)" stroke="#1a1a1a" stroke-width="0.15">0.32%</text>
<text x="0" y="0" font-size="8.1" text-anchor="middle" fill="#1a1a1a" transform="translate(217.80 628.90) scale(1 1.08)" stroke="#1a1a1a" stroke-width="0.15">1.23%</text>
<text x="0" y="0" font-size="8.1" text-anchor="start" fill="#1a1a1a" transform="translate(50.00 641.97) scale(1 1.08)" stroke="#1a1a1a" stroke-width="0.15" textLength="28.60" lengthAdjust="spacingAndGlyphs">Clone 9</text>
<text x="0" y="0" font-size="8.1" text-anchor="middle" fill="#1a1a1a" transform="translate(125.50 641.97) scale(1 1.08)" stroke="#1a1a1a" stroke-width="0.15">1.08%</text>
<text x="0" y="0" font-size="8.1" text-anchor="middle" fill="#1a1a1a" transform="translate(172.00 641.97) scale(1 1.08)" stroke="#1a1a1a" stroke-width="0.15">0.81%</text>
<text x="0" y="0" font-size="8.1" text-anchor="middle" fill="#1a1a1a" transform="translate(217.80 641.97) scale(1 1.08)" stroke="#1a1a1a" stroke-width="0.15">0.99%</text>
<rect x="0" y="0" width="520" height="1.3" fill="#000"/><rect x="0" y="0" width="1.35" height="652" fill="#000"/><rect x="518.1" y="0" width="1.9" height="652" fill="#000"/><rect x="0" y="650.2" width="520" height="1.8" fill="#000"/>
</svg></body></html>
